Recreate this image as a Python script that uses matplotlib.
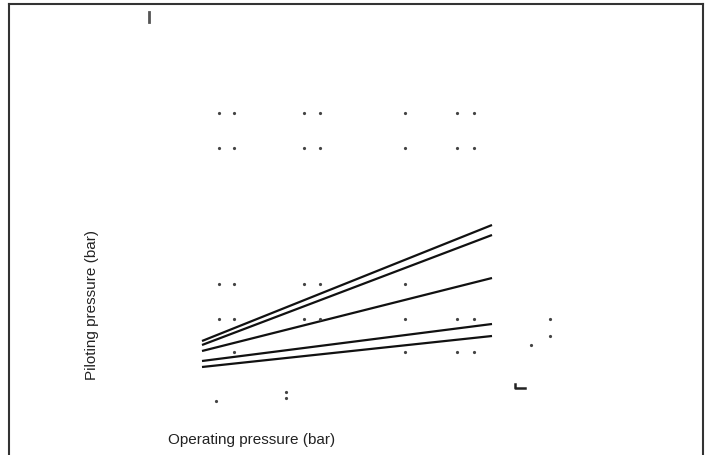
import numpy as np
import matplotlib
matplotlib.use("Agg")
import matplotlib.pyplot as plt
from matplotlib.lines import Line2D

plt.rcParams['font.family'] = ['Liberation Sans', 'DejaVu Sans']

# operating pressure (bar) at the two ends of every curve
op_ends = [2, 10]
# piloting pressure (bar) for the five curves, start / end
curve1 = [1.16, 3.48]
curve2 = [1.08, 3.28]
curve3 = [0.96, 2.42]
curve4 = [0.76, 1.50]
curve5 = [0.64, 1.26]
curves = [curve1, curve2, curve3, curve4, curve5]

# leftover grid dots of the scan
grid_x = [2.47, 2.88, 4.81, 5.26, 7.60, 9.03, 9.50]
grid_y_top = [5.72, 5.02]
row_mid_x = [2.47, 2.88, 4.81, 5.26, 7.60]
row_mid_y = 2.30
row_low_y = 1.60
row_bot_x = [2.88, 7.60, 9.03, 9.50]
row_bot_y = 0.94
stray_x = [2.39, 4.32, 4.32, 11.6, 11.6, 11.08]
stray_y = [-0.04, 0.14, 0.02, 1.60, 1.26, 1.08]
mark_x = [10.63, 10.63, 10.91]
mark_y = [0.30, 0.22, 0.22]
tick_x = [0.54, 0.54]
tick_y = [7.74, 7.54]

W, H = 712, 456
fig = plt.figure(figsize=(W / 100, H / 100), dpi=100)
ax = fig.add_axes([202 / W, (H - 400) / H, 290 / W, 300 / H])
ax.set_xlim(2, 10)
ax.set_ylim(0, 6)
ax.axis('off')

for c in curves:
    ax.plot(op_ends, c, color='#111111', lw=1.6, clip_on=False, solid_capstyle='butt')

dot = dict(ls='none', marker='o', ms=2.3, color='#444444', mew=0, clip_on=False)
for y in grid_y_top:
    ax.plot(grid_x, [y] * len(grid_x), **dot)
ax.plot(row_mid_x, [row_mid_y] * len(row_mid_x), **dot)
ax.plot(grid_x, [row_low_y] * len(grid_x), **dot)
ax.plot(row_bot_x, [row_bot_y] * len(row_bot_x), **dot)
ax.plot(stray_x, stray_y, **dot)
ax.plot(mark_x, mark_y, color='#222222', lw=1.8, clip_on=False)
ax.plot(tick_x, tick_y, color='#555555', lw=2, clip_on=False)

# frame of the scanned figure
fig.add_artist(Line2D([9 / W, 9 / W], [0, 1 - 5 / H], color='#333333', lw=1.5))
fig.add_artist(Line2D([9 / W, 703 / W], [1 - 5 / H, 1 - 5 / H], color='#333333', lw=1.5))
fig.add_artist(Line2D([703 / W, 703 / W], [0, 1 - 5 / H], color='#333333', lw=1.5))

fig.text(252 / W, 1 - 440 / H, 'Operating pressure (bar)', ha='center', va='center',
         fontsize=11, color='#222222')
fig.text(92 / W, 1 - 305 / H, 'Piloting pressure (bar)', ha='center', va='center',
         rotation=90, fontsize=11, color='#222222')

fig.savefig('out.png', dpi=100)
